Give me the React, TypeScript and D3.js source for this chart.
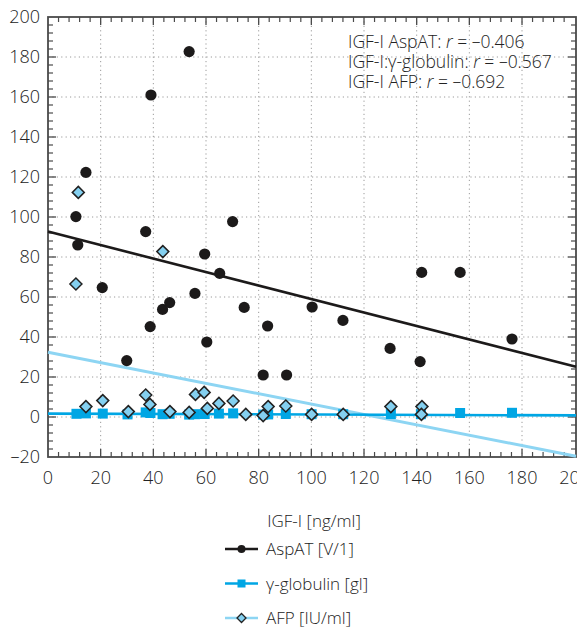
import React from "react";
import * as d3 from "d3";

const aspX = [10.6, 11.3, 14.4, 20.6, 29.9, 37.1, 38.8, 39.1, 43.5, 46.2, 53.6, 55.8, 59.5, 60.3, 65.2, 70.1, 74.5, 81.7, 83.4, 90.6, 100.3, 112, 129.9, 141.3, 141.9, 156.5, 176.2];
const aspY = [100.2, 86, 122.3, 64.7, 28.2, 92.7, 45.2, 161, 53.8, 57.2, 182.7, 61.8, 81.5, 37.5, 71.8, 97.7, 54.8, 21, 45.5, 21, 55, 48.3, 34.3, 27.7, 72.3, 72.3, 39];

const gamX = [10.8, 14.4, 20.8, 30.2, 37.1, 38.9, 43.5, 46.2, 53.6, 55.8, 59.5, 64.9, 70.3, 81.7, 83.6, 90.3, 100.1, 112.1, 130.2, 141.6, 156.5, 176.2];
const gamY = [1.6, 1.8, 1.7, 1.3, 2.3, 2.0, 1.4, 1.6, 1.2, 1.4, 1.5, 1.7, 1.8, 1.2, 1.3, 1.5, 1.4, 1.4, 1.5, 1.4, 2.0, 2.1];

const afpX = [11.5, 10.6, 43.6, 14.4, 20.8, 30.5, 37.1, 38.7, 46.3, 53.6, 56, 59.3, 60.5, 64.9, 70.3, 75.1, 81.7, 83.6, 90.3, 100.1, 112.1, 130.2, 142, 141.8];
const afpY = [112.3, 66.5, 82.7, 5.2, 8.2, 2.7, 11, 6.3, 2.7, 2.3, 11.3, 12.3, 4.3, 6.8, 8, 1.3, 0.7, 5.2, 5.5, 1.3, 1.3, 5.2, 5.2, 1.3];

// regression lines [x0, y0, x1, y1]
const aspFit = [0, 92.7, 200.5, 25.1];
const gamFit = [0, 1.7, 200.5, 0.8];
const afpFit = [0, 32.4, 200.5, -19.6];

const xTicks = [0, 20, 40, 60, 80, 100, 120, 140, 160, 180, 200];
const yTicks = [-20, 0, 20, 40, 60, 80, 100, 120, 140, 160, 180, 200];
const legendLabels = ["AspAT [V/1]", "γ-globulin [gl]", "AFP [IU/ml]"];
const annotations = [
  ["IGF-I AspAT: ", "r", " = \u20130.406"],
  ["IGF-I:\u03b3-globulin: ", "r", " = \u20130.567"],
  ["IGF-I AFP: ", "r", " = \u20130.692"],
];

const C_BLACK = "#1c1a1a";
const C_GAM = "#00a6e4";
const C_AFP_LINE = "#8dd5f3";
const C_AFP_FILL = "#84d0f0";
const C_TEXT = "#222222";
const C_FRAME = "#4a4a4a";
const FONT = "'Open Sans', 'Noto Sans', sans-serif";

export default function App() {
  const W = 577, H = 630;
  const x = d3.scaleLinear().domain([0, 200.5]).range([48, 576]);
  const y = d3.scaleLinear().domain([-20, 200]).range([457, 17]);
  const minorX = d3.range(0, 201, 4).filter((v) => v % 20 !== 0);
  const minorY = d3.range(-20, 201, 4).filter((v) => v % 20 !== 0);
  const line = d3.line<number[]>().x((d) => x(d[0])).y((d) => y(d[1]));
  const fit = (f: number[]) => line([[f[0], f[1]], [f[2], f[3]]]) || "";
  const diamond = (cx: number, cy: number, r: number) =>
    `M${cx},${cy - r}L${cx + r},${cy}L${cx},${cy + r}L${cx - r},${cy}Z`;
  const x0 = x(0), x1 = x(200.5), yTop = y(200), yBot = y(-20);

  return (
    <svg width={W} height={H} style={{ position: "absolute", left: 0, top: 0, background: "#fff" }} fontFamily={FONT}>
      {/* grid */}
      {xTicks.filter((v) => v > 0 && v < 200).map((v) => (
        <line key={"gx" + v} x1={x(v)} x2={x(v)} y1={yTop} y2={yBot} stroke="#9a9a9a" strokeWidth={1} strokeDasharray="1.2,3.2" />
      ))}
      {yTicks.filter((v) => v > -20 && v < 200).map((v) => (
        <line key={"gy" + v} x1={x0} x2={x1} y1={y(v)} y2={y(v)} stroke="#9a9a9a" strokeWidth={1} strokeDasharray="1.2,3.2" />
      ))}
      {/* ticks */}
      {xTicks.filter((v) => v > 0 && v < 200).map((v) => (
        <g key={"tx" + v}>
          <line x1={x(v)} x2={x(v)} y1={yBot} y2={yBot - 8} stroke={C_FRAME} strokeWidth={1.3} />
          <line x1={x(v)} x2={x(v)} y1={yTop} y2={yTop + 8} stroke={C_FRAME} strokeWidth={1.3} />
        </g>
      ))}
      {minorX.map((v) => (
        <g key={"mx" + v}>
          <line x1={x(v)} x2={x(v)} y1={yBot} y2={yBot - 5} stroke={C_FRAME} strokeWidth={1.2} />
          <line x1={x(v)} x2={x(v)} y1={yTop} y2={yTop + 5} stroke={C_FRAME} strokeWidth={1.2} />
        </g>
      ))}
      {yTicks.filter((v) => v > -20 && v < 200).map((v) => (
        <g key={"ty" + v}>
          <line x1={x0} x2={x0 + 8} y1={y(v)} y2={y(v)} stroke={C_FRAME} strokeWidth={1.3} />
          <line x1={x1} x2={x1 - 8} y1={y(v)} y2={y(v)} stroke={C_FRAME} strokeWidth={1.3} />
        </g>
      ))}
      {minorY.map((v) => (
        <g key={"my" + v}>
          <line x1={x0} x2={x0 + 5} y1={y(v)} y2={y(v)} stroke={C_FRAME} strokeWidth={1.2} />
          <line x1={x1} x2={x1 - 5} y1={y(v)} y2={y(v)} stroke={C_FRAME} strokeWidth={1.2} />
        </g>
      ))}
      {/* frame */}
      <rect x={x0} y={yTop} width={x1 - x0} height={yBot - yTop} fill="none" stroke={C_FRAME} strokeWidth={1.8} />
      {/* tick labels */}
      {yTicks.map((v) => (
        <text key={"ly" + v} x={40} y={y(v)} dy="0.36em" textAnchor="end" fontSize={18} fill={C_TEXT} fontWeight={300}>
          {v < 0 ? "\u2013" + Math.abs(v) : v}
        </text>
      ))}
      {xTicks.map((v) => (
        <text key={"lx" + v} x={x(v)} y={484} textAnchor="middle" fontSize={18} fill={C_TEXT} fontWeight={300}>
          {v}
        </text>
      ))}
      <text x={314} y={527} textAnchor="middle" fontSize={17} fill={C_TEXT} fontWeight={300}>IGF-I [ng/ml]</text>
      {/* fit lines */}
      <path d={fit(afpFit)} stroke={C_AFP_LINE} strokeWidth={3} fill="none" />
      <path d={fit(aspFit)} stroke={C_BLACK} strokeWidth={2.6} fill="none" />
      <path d={fit(gamFit)} stroke={C_GAM} strokeWidth={2.6} fill="none" />
      {/* points */}
      {gamX.map((v, i) => (
        <rect key={"g" + i} x={x(v) - 5} y={y(gamY[i]) - 5} width={10} height={10} fill={C_GAM} />
      ))}
      {afpX.map((v, i) => (
        <path key={"a" + i} d={diamond(x(v), y(afpY[i]), 6)} fill={C_AFP_FILL} stroke="#222" strokeWidth={1.5} />
      ))}
      {aspX.map((v, i) => (
        <circle key={"s" + i} cx={x(v)} cy={y(aspY[i])} r={5.6} fill={C_BLACK} />
      ))}
      {/* annotation */}
      {annotations.map((a, i) => (
        <text key={"an" + i} x={348} y={48 + i * 20} fontSize={17.5} fill={C_TEXT} fontWeight={300}>
          {a[0]}<tspan fontStyle="italic">{a[1]}</tspan>{a[2]}
        </text>
      ))}
      {/* legend */}
      {legendLabels.map((lab, i) => {
        const ly = 549 + i * 34.5;
        return (
          <g key={"lg" + i}>
            <line x1={225} x2={258} y1={ly} y2={ly} stroke={i === 0 ? C_BLACK : i === 1 ? C_GAM : C_AFP_LINE} strokeWidth={2.6} />
            {i === 0 && <circle cx={241.5} cy={ly} r={4} fill={C_BLACK} />}
            {i === 1 && <rect x={237.5} y={ly - 4} width={8} height={8} fill={C_GAM} />}
            {i === 2 && <path d={diamond(241.5, ly, 4.5)} fill={C_AFP_FILL} stroke="#222" strokeWidth={1.3} />}
            <text x={266} y={ly} dy="0.36em" fontSize={17} fill={C_TEXT} fontWeight={300}>{lab}</text>
          </g>
        );
      })}
    </svg>
  );
}
